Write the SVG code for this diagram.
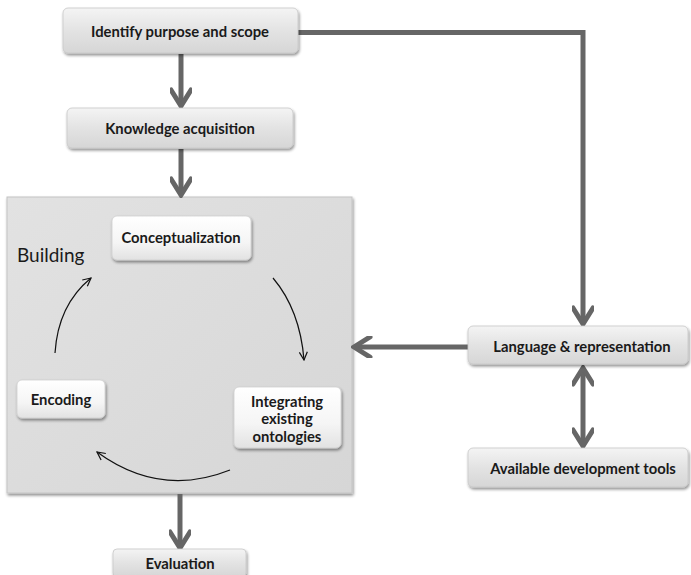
<svg xmlns="http://www.w3.org/2000/svg" width="691" height="575" viewBox="0 0 691 575">
  <defs>
    <linearGradient id="boxFill" x1="0" y1="0" x2="0" y2="1">
      <stop offset="0" stop-color="#f4f4f4"/>
      <stop offset="0.5" stop-color="#e3e3e3"/>
      <stop offset="1" stop-color="#d6d6d6"/>
    </linearGradient>
    <linearGradient id="innerFill" x1="0" y1="0" x2="0" y2="1">
      <stop offset="0" stop-color="#ffffff"/>
      <stop offset="0.6" stop-color="#f5f5f5"/>
      <stop offset="1" stop-color="#e2e2e2"/>
    </linearGradient>
    <linearGradient id="panelFill" x1="0" y1="0" x2="1" y2="1">
      <stop offset="0" stop-color="#e2e2e2"/>
      <stop offset="1" stop-color="#d6d6d6"/>
    </linearGradient>
    <filter id="shadow" x="-10%" y="-10%" width="125%" height="140%">
      <feGaussianBlur in="SourceAlpha" stdDeviation="1.5"/>
      <feOffset dx="1" dy="2" result="b"/>
      <feComponentTransfer><feFuncA type="linear" slope="0.45"/></feComponentTransfer>
      <feMerge><feMergeNode/><feMergeNode in="SourceGraphic"/></feMerge>
    </filter>
    <marker id="chev" viewBox="0 0 22 22" refX="19" refY="11" markerWidth="22" markerHeight="22" markerUnits="userSpaceOnUse" orient="auto-start-reverse">
      <path d="M3,1 L19,11 L3,21" fill="none" stroke="#666" stroke-width="5" stroke-linecap="round" stroke-linejoin="miter"/>
    </marker>
    <marker id="thin" viewBox="0 0 10 10" refX="9" refY="5" markerWidth="10" markerHeight="10" markerUnits="userSpaceOnUse" orient="auto">
      <path d="M1,1 L9,5 L1,9" fill="none" stroke="#111" stroke-width="1.2"/>
    </marker>
  </defs>
  <style>
    .box { fill: url(#boxFill); stroke: #c8c8c8; stroke-width: 0.8; filter: url(#shadow); }
    .inner { fill: url(#innerFill); stroke: #cfcfcf; stroke-width: 0.8; filter: url(#shadow); }
    .label { font-family: Lato, "Liberation Sans", sans-serif; font-weight: bold; font-size: 14.8px; fill: #1a1a1a; text-anchor: middle; }
    .thick { fill: none; stroke: #666; stroke-width: 5; }
    .cycle { fill: none; stroke: #111; stroke-width: 1.2; }
  </style>

  <rect width="691" height="575" fill="#ffffff"/>

  <!-- Building panel -->
  <g id="building">
    <rect x="7" y="197" width="345" height="296" fill="url(#panelFill)" stroke="#c4c4c4" stroke-width="1" filter="url(#shadow)"/>
    <text x="17" y="262" font-family="Lato, 'Liberation Sans', sans-serif" font-size="19" fill="#1a1a1a">Building</text>
  </g>

  <!-- Connectors -->
  <g id="connectors">
    <line class="thick" x1="181" y1="54" x2="181" y2="106" marker-end="url(#chev)"/>
    <line class="thick" x1="181" y1="149" x2="181" y2="195" marker-end="url(#chev)"/>
    <polyline class="thick" points="298,32.5 583,32.5 583,324" marker-end="url(#chev)"/>
    <line class="thick" x1="468" y1="347" x2="354" y2="347" marker-end="url(#chev)"/>
    <line class="thick" x1="583" y1="368" x2="583" y2="446" marker-start="url(#chev)" marker-end="url(#chev)"/>
    <line class="thick" x1="180" y1="494" x2="180" y2="548" marker-end="url(#chev)"/>
    <!-- building cycle -->
    <path class="cycle" d="M55,353 Q58,305 91,278" marker-end="url(#thin)"/>
    <path class="cycle" d="M273,278 Q300,310 304,360" marker-end="url(#thin)"/>
    <path class="cycle" d="M230,470 Q160,498 97,452" marker-end="url(#thin)"/>
  </g>

  <g id="identify">
    <rect class="box" x="63" y="8" width="235" height="45" rx="5"/>
    <text class="label" x="180" y="37">Identify purpose and scope</text>
  </g>

  <g id="knowledge">
    <rect class="box" x="67" y="108" width="226" height="40" rx="5"/>
    <text class="label" x="180" y="134">Knowledge acquisition</text>
  </g>

  <g id="conceptualization">
    <rect class="inner" x="112" y="216" width="139" height="44" rx="5"/>
    <text class="label" x="181" y="243">Conceptualization</text>
  </g>

  <g id="encoding">
    <rect class="inner" x="17" y="380" width="88" height="38" rx="5"/>
    <text class="label" x="61" y="405">Encoding</text>
  </g>

  <g id="integrating">
    <rect class="inner" x="234" y="387" width="107" height="61" rx="5"/>
    <text class="label" x="287" y="407">Integrating</text>
    <text class="label" x="287" y="424">existing</text>
    <text class="label" x="287" y="442">ontologies</text>
  </g>

  <g id="language">
    <rect class="box" x="468" y="326" width="220" height="38" rx="5"/>
    <text class="label" x="582" y="352">Language &amp; representation</text>
  </g>

  <g id="tools">
    <rect class="box" x="468" y="448" width="220" height="39" rx="5"/>
    <text class="label" x="583" y="474">Available development tools</text>
  </g>

  <g id="evaluation">
    <rect class="box" x="113" y="549" width="133" height="28" rx="4"/>
    <text class="label" x="180" y="569">Evaluation</text>
  </g>
</svg>
